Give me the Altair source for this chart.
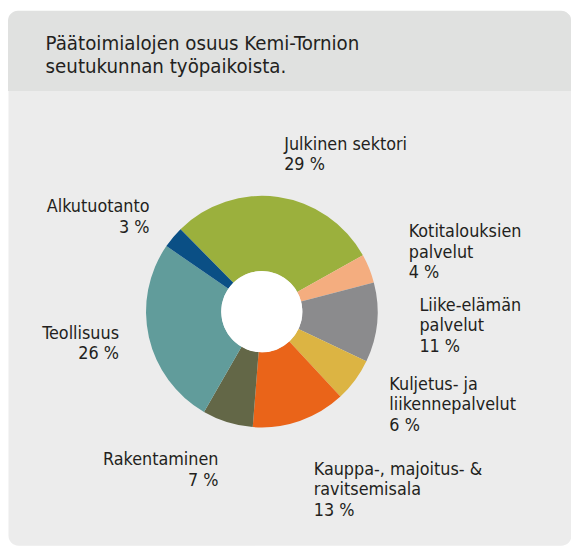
import math
import altair as alt
import pandas as pd

# ---- data ----
categories = [
    "Julkinen sektori",
    "Kotitalouksien\npalvelut",
    "Liike-elämän\npalvelut",
    "Kuljetus- ja\nliikennepalvelut",
    "Kauppa-,  majoitus- &\nravitsemisala",
    "Rakentaminen",
    "Teollisuus",
    "Alkutuotanto",
]
values = [29, 4, 11, 6, 13, 7, 26, 3]
colors = ["#9bb03d", "#f4ad7f", "#8b8b8d", "#dcb443", "#ea6419", "#636747", "#619c9b", "#0a4f85"]
title_lines = ["Päätoimialojen osuus Kemi-Tornion", "seutukunnan työpaikoista."]

# ---- layout / style ----
FONT = "Liberation Sans Narrow, DejaVu Sans Condensed, Roboto Condensed, Roboto, sans-serif"
TEXT_COLOR = "#231f20"
W, H = 569, 540
CX, CY = 256.5, 304
R_OUT, R_IN = 117, 41
LABEL_R = {"left": 160, "right": 148}   # distance of left-aligned (right side) / right-aligned labels
LH = 20.5
START = math.radians(-44.6)
TAU = 2 * math.pi

total = sum(values)
df = pd.DataFrame({"idx": list(range(len(values))), "cat": categories, "value": values})
labels = [f"{c}\n{v} %" for c, v in zip(categories, values)]
mid = (df["value"].cumsum() - df["value"] / 2) / total

# label placement rule: side decides alignment; labels at the bottom hang below the anchor,
# the others are centred vertically on it
styles = []
for lab, m in zip(labels, mid):
    ang = START + m * TAU
    align = "left" if math.sin(ang) >= 0 else "right"
    n = lab.count("\n") + 1
    if math.cos(ang) < -0.9:
        styles.append((align, "top", 0.0))
    else:
        styles.append((align, "middle", -(n - 1) * LH / 2))

groups = sorted(set(styles))
for gi, g in enumerate(groups):
    df[f"lab_{gi}"] = [lab if s == g else "" for lab, s in zip(labels, styles)]

theta = alt.Theta("value:Q", stack=True, scale=alt.Scale(range=[START, START + TAU]))
order = alt.Order("idx:Q")
cx, cy = alt.value(CX), alt.value(CY)

base = alt.Chart(df)

arcs = base.mark_arc(outerRadius=R_OUT, innerRadius=R_IN).encode(
    theta=theta,
    color=alt.Color("cat:N", scale=alt.Scale(domain=categories, range=colors), legend=None),
    order=order,
    x=cx,
    y=cy,
)

hole = alt.Chart(pd.DataFrame({"h": [0]})).mark_arc(
    outerRadius=R_IN, innerRadius=0, color="white", theta=0, theta2=TAU
).encode(x=cx, y=cy)

label_layers = []
for gi, (a, b, dy) in enumerate(groups):
    label_layers.append(
        base.mark_text(
            align=a, baseline=b, radius=LABEL_R[a], dy=dy,
            lineBreak="\n", fontSize=18, lineHeight=LH, font=FONT, color=TEXT_COLOR,
        ).encode(theta=theta, detail="cat:N", order=order, text=f"lab_{gi}:N", x=cx, y=cy)
    )

hdr_df = pd.DataFrame({"t": ["\n".join(title_lines)]})
header = alt.Chart(hdr_df).mark_rect(
    color="#e0e1e0", cornerRadiusTopLeft=10, cornerRadiusTopRight=10
).encode(x=alt.value(0), x2=alt.value(W), y=alt.value(0), y2=alt.value(81))
title = alt.Chart(hdr_df).mark_text(
    align="left", baseline="alphabetic", fontSize=20.5, lineBreak="\n", lineHeight=23,
    font=FONT, color=TEXT_COLOR
).encode(x=alt.value(38), y=alt.value(40), text="t:N")

chart = alt.layer(header, title, arcs, hole, *label_layers).properties(
    width=W, height=H, padding=0, autosize=alt.AutoSizeParams(type="none"), background="white"
).configure_view(fill="#ececec", cornerRadius=10, stroke="transparent")

chart.save("out.html", embed_options={"renderer": "svg", "actions": False})
